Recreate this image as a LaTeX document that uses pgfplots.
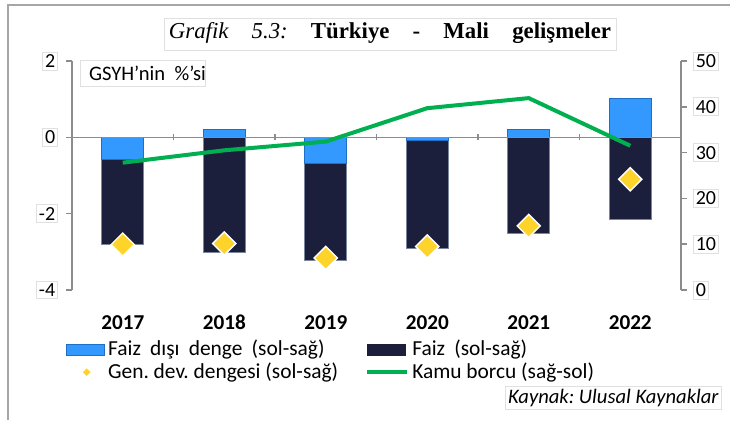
\documentclass[border=0pt]{standalone}
\usepackage{fontspec}
\setmainfont{Carlito}
\newfontfamily\ttlserif{Liberation Serif}
\usepackage{pgfplots}
\usepackage{pgfplotstable}
\pgfplotsset{compat=1.18}

\definecolor{fdblue}{HTML}{3399FF}
\definecolor{fdedge}{HTML}{1F6FC4}
\definecolor{faiznavy}{HTML}{1B1F3B}
\definecolor{faizedge}{HTML}{7A859E}
\definecolor{gdgold}{HTML}{FFD42A}
\definecolor{kbgreen}{HTML}{00B050}
\definecolor{axgray}{HTML}{8C8C8C}

\pgfplotsset{
  rectlegend/.style={legend image code/.code={\draw[##1] (0pt,-2.7pt) rectangle (19pt,2.7pt);}},
  dialegend/.style={legend image code/.code={\fill[##1, draw=none] (10pt,1.9pt) -- (11.9pt,0pt) -- (10pt,-1.9pt) -- (8.1pt,0pt) -- cycle;}},
  linelegend/.style={legend image code/.code={\draw[##1] (0pt,0pt) -- (20pt,0pt);}},
}

% GSYH'nin %'si ; faizbar = lower end of the dark bar
\pgfplotstableread{
x nonint faizbar gendev
0 -0.58 -2.82 -2.81
1  0.20 -3.03 -2.78
2 -0.68 -3.22 -3.16
3 -0.09 -2.92 -2.86
4  0.21 -2.53 -2.32
5  1.02 -2.16 -1.10
}\maliveri

\pgfplotstableread{
x borc
0 27.8
1 30.5
2 32.4
3 39.7
4 41.9
5 31.5
}\borcveri

\begin{document}
\frenchspacing
\begin{tikzpicture}[x=0.5pt,y=0.5pt]
\useasboundingbox (0,0) rectangle (730,420);
\fill[white] (0,0) rectangle (730,420);
% frame and title
\draw[black!35, line width=0.8pt] (8,0) -- (8,415) -- (730,415);
\draw[black!12, line width=0.5pt] (164,402) rectangle (616,370);
\node at (390,387) {\ttlserif\fontsize{11.4}{13}\selectfont
  \makebox[221pt][s]{\textit{Grafik 5.3:} \textbf{Türkiye - Mali gelişmeler}}};

\begin{axis}[
  at={(36pt,65pt)}, anchor=south west,
  scale only axis, width=304.5pt, height=114.5pt,
  xmin=-0.5, xmax=5.5, ymin=-4, ymax=2,
  axis x line*=middle, axis y line*=left,
  axis line style={axgray, line width=0.75pt, -},
  xtick={0.5,1.5,2.5,3.5,4.5}, xticklabels={},
  ytick={-4,-2,0,2},
  tick style={axgray, line width=0.75pt},
  major tick length=3pt,
  y tick style={/pgfplots/tick align=outside},
  x tick style={/pgfplots/tick align=center},
  /pgf/number format/assume math mode=true,
  yticklabel style={font=\fontsize{10}{12}\selectfont, draw=black!12, line width=0.4pt, inner sep=1.2pt, xshift=-7pt},
  axis on top,
  legend columns=2,
  legend cell align=left,
  legend style={at={(-0.01,-0.2)}, anchor=north west, draw=none, fill=none,
    font=\fontsize{10.7}{12}\selectfont, inner sep=0pt, row sep=-2pt,
    nodes={inner xsep=1.5pt},
    /tikz/every even column/.append style={column sep=12pt}},
]
\addlegendimage{rectlegend, fill=fdblue, draw=fdedge}
\addlegendentry{Faiz\hspace{2.2pt} dışı\hspace{2.2pt} denge\hspace{2.2pt} (sol-sağ)}
\addlegendimage{rectlegend, fill=faiznavy, draw=faiznavy}
\addlegendentry{Faiz\hspace{2.2pt} (sol-sağ)}
\addlegendimage{dialegend, fill=gdgold}
\addlegendentry{Gen. dev. dengesi (sol-sağ)}
\addlegendimage{linelegend, draw=kbgreen, line width=2pt}
\addlegendentry{Kamu borcu (sağ-sol)}

\addplot[ybar, bar width=20.8pt, bar shift=0pt, fill=faiznavy, draw=faizedge, line width=0.5pt, forget plot]
  table[x=x, y=faizbar] {\maliveri};
\addplot[ybar, bar width=20.8pt, bar shift=0pt, fill=fdblue, draw=fdedge, line width=0.5pt, forget plot]
  table[x=x, y=nonint] {\maliveri};
\addplot[only marks, mark=square*, mark size=4.1pt,
  mark options={rotate=45, fill=gdgold, draw=white, line width=0.7pt}, forget plot]
  table[x=x, y=gendev] {\maliveri};
\end{axis}

\begin{axis}[
  at={(36pt,65pt)}, anchor=south west,
  scale only axis, width=304.5pt, height=114.5pt,
  xmin=-0.5, xmax=5.5, ymin=0, ymax=50,
  axis x line*=bottom, axis y line*=right,
  x axis line style={draw=none},
  y axis line style={axgray, line width=0.75pt, -},
  xtick={0,1,2,3,4,5},
  xticklabels={2017,2018,2019,2020,2021,2022},
  major x tick style={draw=none},
  xticklabel style={font=\bfseries\fontsize{10.6}{12}\selectfont, anchor=base, yshift=-16.5pt},
  ytick={0,10,20,30,40,50},
  y tick style={axgray, line width=0.75pt},
  tick align=outside, major tick length=3pt,
  /pgf/number format/assume math mode=true,
  yticklabel style={font=\fontsize{10}{12}\selectfont, draw=black!12, line width=0.4pt, inner sep=1.2pt, anchor=west, xshift=3pt},
]
\addplot[kbgreen, line width=2pt, no markers] table[x=x, y=borc] {\borcveri};
\end{axis}

% unit label and source
\draw[black!12, line width=0.5pt] (80,360) rectangle (205,334);
\node[anchor=west] at (82,347) {\fontsize{10.3}{12}\selectfont GSYH’nin\ \ \%’si};
\node[anchor=east, draw=black!12, line width=0.5pt, inner sep=1.5pt] at (722,22)
  {\fontsize{10.3}{12}\selectfont\itshape Kaynak: Ulusal Kaynaklar};
\end{tikzpicture}
\end{document}
